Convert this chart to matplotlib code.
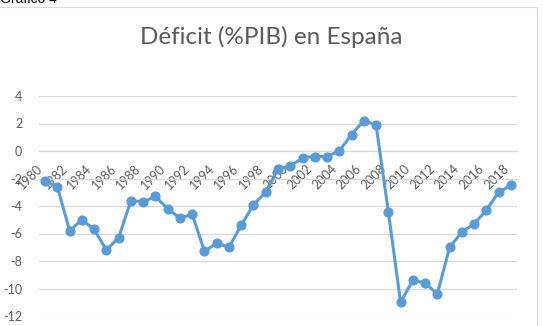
import matplotlib.pyplot as plt
from matplotlib.patches import Rectangle

years = list(range(1980, 2019))
deficit = [-2.2, -2.6, -5.8, -5.0, -5.7, -7.2, -6.3, -3.6, -3.7, -3.3,
           -4.2, -4.9, -4.6, -7.3, -6.7, -7.0, -5.4, -3.9, -3.0, -1.3,
           -1.1, -0.5, -0.4, -0.4, 0.0, 1.2, 2.2, 1.9, -4.4, -11.0,
           -9.4, -9.6, -10.4, -7.0, -5.9, -5.3, -4.3, -3.0, -2.5]
yticks = [-12, -10, -8, -6, -4, -2, 0, 2, 4]
xlabels = [str(y) for y in years[::2]]

gray = '#595959'
blue = '#5B9BD5'
plt.rcParams['font.family'] = ['Lato', 'DejaVu Sans']

fig = plt.figure(figsize=(5.43, 3.26), dpi=100)
fig.patches.append(Rectangle((-0.01, -0.01), 537/543 + 0.01, 1 - 7/326 + 0.01,
                             transform=fig.transFigure, fill=False,
                             edgecolor='#D9D9D9', linewidth=0.8))
fig.text(0.0, 1 - 3/326, 'Gráfico 4', family='Liberation Sans', fontsize=10,
         color='black', va='baseline', ha='left')

ax = fig.add_axes([39/543, 1 - 316/326, (517 - 39)/543, (316 - 96)/326])
# axis line at y=0 (do this before styling the tick labels, it resets them)
ax.spines['bottom'].set_position(('data', 0))
ax.spines['bottom'].set_color('#D9D9D9')
for s in ['top', 'right', 'left']:
    ax.spines[s].set_visible(False)

x = list(range(len(years)))
ax.plot(x, deficit, color=blue, linewidth=2.2, marker='o', markersize=6.3,
        zorder=3)

ax.set_xlim(-0.5, len(years) - 0.5)
ax.set_ylim(-12, 4)
ax.set_yticks(yticks)
ax.set_yticklabels([str(v) for v in yticks])
ax.grid(axis='y', color='#D9D9D9', linewidth=0.9)
ax.set_axisbelow(True)

ax.set_xticks(x[::2])
ax.set_xticklabels(xlabels)
ax.tick_params(axis='x', length=0, pad=8, labelsize=9, labelcolor=gray,
               labelrotation=45)
ax.tick_params(axis='y', length=0, pad=12, labelsize=9, labelcolor=gray)
for lab in ax.get_xticklabels():
    lab.set_ha('right')
    lab.set_va('top')

fig.text(0.5, 1 - 37/326, 'Déficit (%PIB) en España', ha='center', va='center',
         fontsize=17.5, color=gray)

fig.savefig('out.png', dpi=100)
